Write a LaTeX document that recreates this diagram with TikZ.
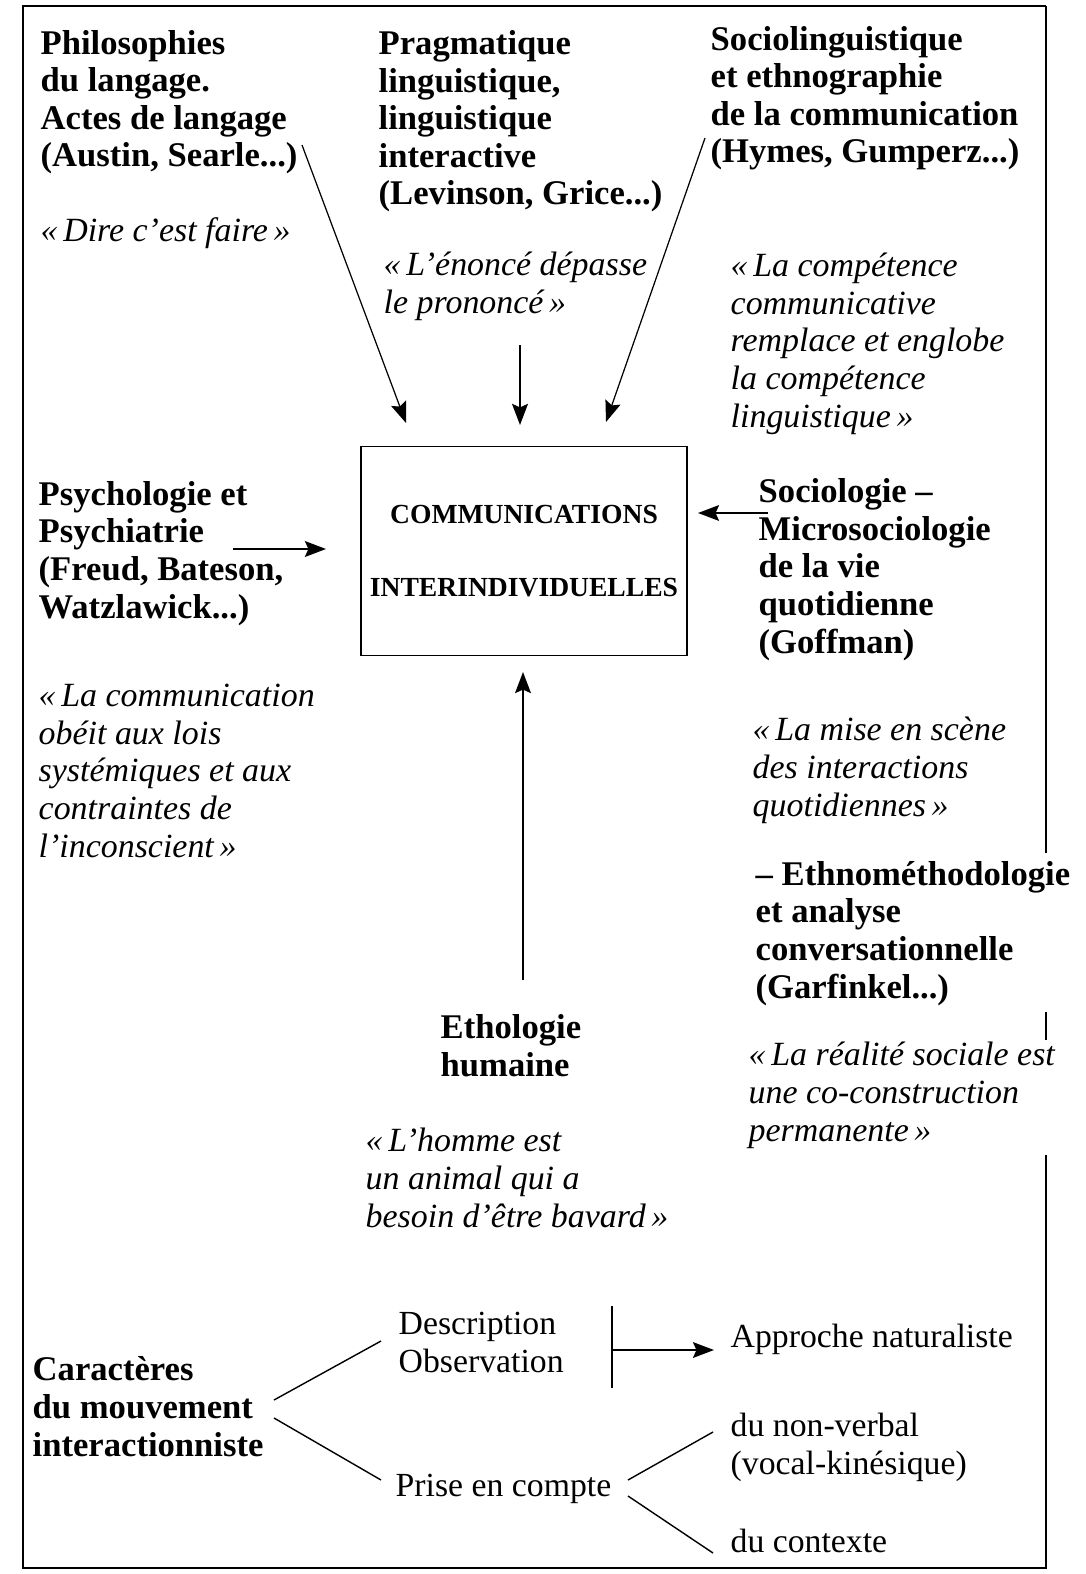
\documentclass[tikz,border=0pt]{standalone}
\usepackage{fontspec}
\setmainfont{Liberation Serif}
\usetikzlibrary{arrows.meta}

\begin{document}
\begin{tikzpicture}
        [x=0.2mm,y=-0.2mm,line width=0.8pt,
         every node/.style={inner sep=0pt,anchor=base west,align=left},
         discipline/.style={font=\fontsize{19.7}{21.4}\selectfont\bfseries},
         devise/.style={font=\fontsize{19.3}{21.4}\selectfont\itshape},
         trait/.style={font=\fontsize{19.2}{21.4}\selectfont},
         fleche/.style={-{Stealth[length=12pt,width=9pt,inset=2pt]}}]
        \useasboundingbox (0,0) rectangle (1085,1574);
        % cadre (les nodes sont places par leur derniere ligne)
        \draw (1046,6) -- (23,6) -- (23,1568) -- (1046,1568) -- (1046,1155);
        \draw (1046,6) -- (1046,853);
        \draw (1046,1012) -- (1046,1040);

        % disciplines du haut
        \node[discipline] (philo) at (40,167) {Philosophies\\du langage.\\Actes de langage\\(Austin, Searle...)};
        \node[devise] (dire) at (40,242) {«\thinspace Dire c’est faire\thinspace»};
        \node[discipline] (pragma) at (378,205) {Pragmatique\\linguistique,\\linguistique\\interactive\\(Levinson, Grice...)};
        \node[devise] (enonce) at (383,313) {«\thinspace L’énoncé dépasse\\le prononcé\thinspace»};
        \node[discipline] (socioling) at (710,163) {Sociolinguistique\\et ethnographie\\de la communication\\(Hymes, Gumperz...)};
        \node[devise] (competence) at (730,427) {«\thinspace La compétence\\communicative\\remplace et englobe\\la compétence\\linguistique\thinspace»};

        % centre
        \node[draw,anchor=center,line width=1.1pt,minimum width=65.2mm,minimum height=41.8mm,
              align=center,font=\fontsize{15.7}{41.4}\selectfont\bfseries] (comm) at (524,551)
              {COMMUNICATIONS\\INTERINDIVIDUELLES};

        \node[discipline] (psycho) at (38,618) {Psychologie et\\Psychiatrie\\(Freud, Bateson,\\Watzlawick...)};
        \node[devise] (lois) at (38,857) {«\thinspace La communication\\obéit aux lois\\systémiques et aux\\contraintes de\\l’inconscient\thinspace»};
        \node[discipline] (socio) at (758,653) {Sociologie –\\Microsociologie\\de la vie\\quotidienne\\(Goffman)};
        \node[devise] (scene) at (752,816) {«\thinspace La mise en scène\\des interactions\\quotidiennes\thinspace»};
        \node[discipline] (ethno) at (755,998) {– Ethnométhodologie\\et analyse\\conversationnelle\\(Garfinkel...)};
        \node[devise] (realite) at (748,1141) {«\thinspace La réalité sociale est\\une co-construction\\permanente\thinspace»};
        \node[discipline] (etho) at (440,1076) {Ethologie\\humaine};
        \node[devise] (bavard) at (365,1227) {«\thinspace L’homme est\\un animal qui a\\besoin d’être bavard\thinspace»};

        % caracteres
        \node[discipline] (caract) at (32,1456) {Caractères\\du mouvement\\interactionniste};
        \node[trait] (descr) at (398,1372) {Description\\Observation};
        \node[trait] (prise) at (395,1496) {Prise en compte};
        \node[trait] (approche) at (730,1347) {Approche naturaliste};
        \node[trait] (nonverbal) at (730,1474) {du non-verbal\\(vocal-kinésique)};
        \node[trait] (contexte) at (730,1552) {du contexte};

        % bouts des fleches
        \coordinate (philoA) at (302,145);
        \coordinate (philoB) at (406,423);
        \coordinate (pragmaA) at (520,345);
        \coordinate (pragmaB) at (520,425);
        \coordinate (sociolingA) at (705,138);
        \coordinate (sociolingB) at (606,422);
        \coordinate (psychoA) at (233,549);
        \coordinate (psychoB) at (326,549);
        \coordinate (socioA) at (768,513);
        \coordinate (socioB) at (698,513);
        \coordinate (ethoA) at (523,980);
        \coordinate (ethoB) at (523,672);
        \coordinate (caractU) at (274,1400);
        \coordinate (caractD) at (274,1418);
        \coordinate (descrL) at (381,1341);
        \coordinate (priseL) at (381,1480);
        \coordinate (barT) at (612,1306);
        \coordinate (barB) at (612,1388);
        \coordinate (barM) at (612,1350);
        \coordinate (approcheL) at (714,1350);
        \coordinate (priseU) at (628,1480);
        \coordinate (priseD) at (628,1496);
        \coordinate (nonverbalL) at (713,1432);
        \coordinate (contexteL) at (713,1553);

        \draw[fleche,line width=0.7pt] (philoA) -- (philoB);
        \draw[fleche,line width=1.2pt] (pragmaA) -- (pragmaB);
        \draw[fleche,line width=0.7pt] (sociolingA) -- (sociolingB);
        \draw[fleche,line width=1.1pt] (psychoA) -- (psychoB);
        \draw[fleche] (socioA) -- (socioB);
        \draw[fleche,line width=1.1pt] (ethoA) -- (ethoB);
        \draw (caractU) -- (descrL);
        \draw (caractD) -- (priseL);
        \draw (barT) -- (barB);
        \draw[fleche] (barM) -- (approcheL);
        \draw (priseU) -- (nonverbalL);
        \draw (priseD) -- (contexteL);
    \end{tikzpicture}
\end{document}
